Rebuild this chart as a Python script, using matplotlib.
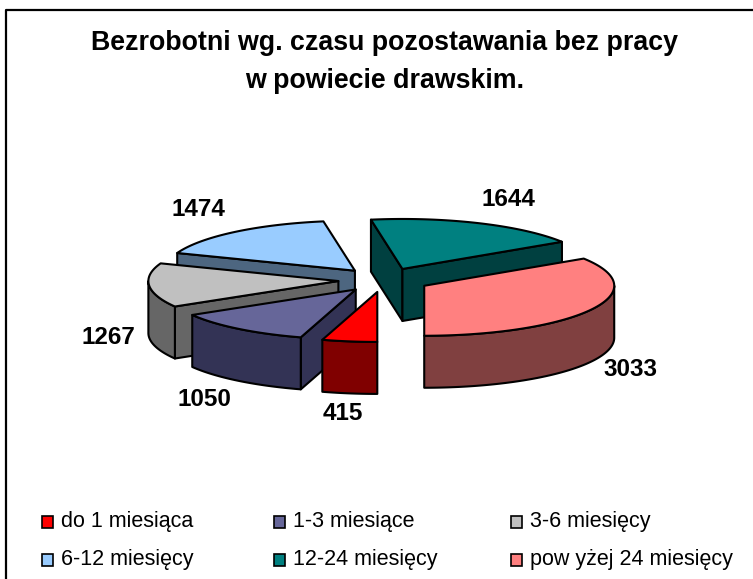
"""Bezrobotni wg. czasu pozostawania bez pracy - exploded 3-D pie drawn by hand."""
import numpy as np
import matplotlib

matplotlib.use("Agg")
import matplotlib.pyplot as plt
from matplotlib.patches import Polygon, Rectangle

# --- data -------------------------------------------------------------------
categories = ["do 1 miesiąca", "1-3 miesiące", "3-6 miesięcy",
              "6-12 miesięcy", "12-24 miesięcy", "pow yżej 24 miesięcy"]
values = [415, 1050, 1267, 1474, 1644, 3033]
top_colors = ["#FF0000", "#666699", "#C0C0C0", "#99CCFF", "#008080", "#FF8080"]
side_colors = ["#800000", "#333355", "#666666", "#4D6680", "#004040", "#804040"]
title_lines = ["Bezrobotni wg. czasu pozostawania bez pracy", "w powiecie drawskim."]

# --- layout (pixels of the 753x579 canvas) ----------------------------------
CX, CY = 384, 280
RX, RY = 190, 50
DEPTH = 52
EXPLODE = 0.241
START = 180.0  # first slice starts at the bottom, clockwise
DRAW_ORDER = [3, 4, 2, 5, 1, 0]  # back to front
LABEL_XY = [(343, 414), (204, 400), (108, 338), (198, 210), (508, 200), (630, 370)]
LEGEND_COLS = [47, 279, 516]
LEGEND_ROWS = [522, 560]

plt.rcParams["font.family"] = ["Liberation Sans", "DejaVu Sans"]

fig = plt.figure(figsize=(7.53, 5.79), dpi=100, facecolor="white")
ax = fig.add_axes([0, 0, 1, 1])
ax.set_xlim(0, 753)
ax.set_ylim(579, 0)
ax.set_axis_off()

# chart frame runs off the image on the right and at the bottom
ax.plot([6, 6, 753], [579, 10, 10], color="black", linewidth=1.6)


def rim(t0, t1, ox, oy):
    """Points on the ellipse between two clockwise-from-top angles (degrees)."""
    t = np.radians(np.linspace(t0, t1, max(int(abs(t1 - t0)), 2)))
    return np.column_stack([ox + RX * np.sin(t), oy - RY * np.cos(t)])


def shape(points, color):
    ax.add_patch(Polygon(points, closed=True, facecolor=color, edgecolor="black",
                         linewidth=1.5, joinstyle="round"))


def draw_slice(t0, t1, top, side):
    if t0 >= 360:
        t0, t1 = t0 - 360, t1 - 360
    mid = np.radians((t0 + t1) / 2)
    ox = CX + EXPLODE * RX * np.sin(mid)
    oy = CY - EXPLODE * RY * np.cos(mid)
    apex = np.array([[ox, oy]])
    down = np.array([0, DEPTH])

    # radial wall at the start angle shows when it faces the viewer
    edge = rim(t0, t0, ox, oy)[:1]
    if 180 < t0 % 360 < 360:
        shape(np.vstack([apex, edge, edge + down, apex + down]), side)
    # radial wall at the end angle
    edge = rim(t1, t1, ox, oy)[:1]
    if 0 < t1 % 360 < 180:
        shape(np.vstack([apex, edge, edge + down, apex + down]), side)
    # outer wall, only the part on the front half of the ellipse
    lo, hi = max(t0, 90), min(t1, 270)
    if lo < hi:
        arc = rim(lo, hi, ox, oy)
        shape(np.vstack([arc, arc[::-1] + down]), side)
    shape(np.vstack([apex, rim(t0, t1, ox, oy)]), top)


fractions = np.array(values) / sum(values)
stops = START + np.concatenate([[0], np.cumsum(fractions) * 360])
for i in DRAW_ORDER:
    draw_slice(stops[i], stops[i + 1], top_colors[i], side_colors[i])

for value, (x, y) in zip(values, LABEL_XY):
    ax.text(x, y, str(value), fontsize=17.5, fontweight="bold", ha="center", va="center")

for line, y in zip(title_lines, [43, 81]):
    ax.text(385, y, line, fontsize=19.3, fontweight="bold", ha="center", va="center")

for i, label in enumerate(categories):
    x = LEGEND_COLS[i % 3]
    y = LEGEND_ROWS[i // 3]
    ax.add_patch(Rectangle((x - 5, y - 6), 11, 12, facecolor=top_colors[i],
                           edgecolor="black", linewidth=1.2))
    ax.text(x + 14, y, label, fontsize=15.5, ha="left", va="center")

fig.savefig("out.png", dpi=100)
